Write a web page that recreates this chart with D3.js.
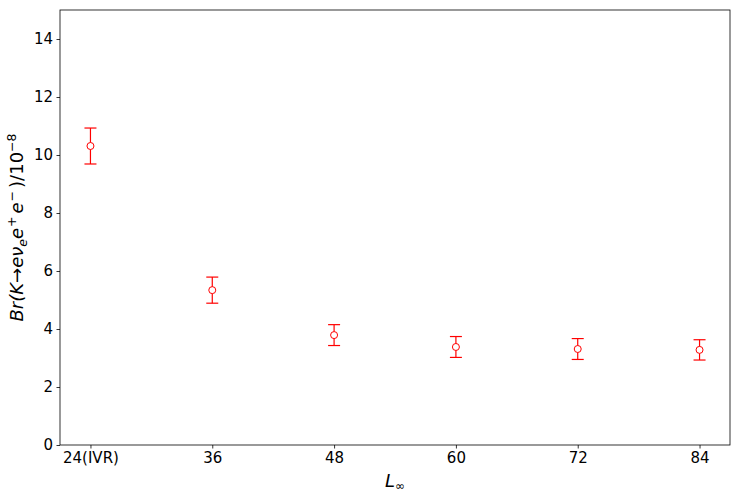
<!DOCTYPE html>
<html>
<head>
<meta charset="utf-8">
<script src="https://cdn.jsdelivr.net/npm/d3@7"></script>
<style>
body { margin: 0; background: #fff; }
text { font-family: "DejaVu Sans", sans-serif; }
</style>
</head>
<body>
<div id="plot"></div>
<script>
var categories = ["24(IVR)", "36", "48", "60", "72", "84"];
var values = [10.31, 5.34, 3.79, 3.38, 3.31, 3.28];
var errors = [0.62, 0.45, 0.36, 0.36, 0.36, 0.35];
var yTicks = [0, 2, 4, 6, 8, 10, 12, 14];

var width = 740, height = 496;
var padLeft = 60, padRight = 730, padTop = 10, padBottom = 445;

var svg = d3.select("#plot").append("svg")
    .attr("width", width)
    .attr("height", height);

var xScale = d3.scaleLinear()
    .domain([-0.25, categories.length - 0.75])
    .range([padLeft, padRight]);

var yScale = d3.scaleLinear()
    .domain([0, 15])
    .range([padBottom, padTop]);

var xAxis = d3.axisBottom(xScale)
    .tickValues(d3.range(categories.length))
    .tickFormat(function(d){ return categories[d]; })
    .tickSize(3.5).tickPadding(3.5);

var yAxis = d3.axisLeft(yScale)
    .tickValues(yTicks)
    .tickSize(3.5).tickPadding(3.5);

var gx = svg.append("g")
    .attr("transform", "translate(0," + padBottom + ")")
    .call(xAxis);
var gy = svg.append("g")
    .attr("transform", "translate(" + padLeft + ",0)")
    .call(yAxis);

[gx, gy].forEach(function(g){
    g.select(".domain").remove();
    g.selectAll("line").attr("stroke", "#000").attr("stroke-width", 0.8);
    g.selectAll("text").attr("font-size", 15).attr("fill", "#000")
        .attr("font-family", "DejaVu Sans");
});

svg.append("rect")
    .attr("x", padLeft).attr("y", padTop)
    .attr("width", padRight - padLeft).attr("height", padBottom - padTop)
    .attr("fill", "none").attr("stroke", "#000").attr("stroke-width", 0.8);

var pts = categories.map(function(c, i){
    return {i: i, v: values[i], e: errors[i]};
});

var marks = svg.append("g").selectAll("g").data(pts).enter().append("g");

marks.append("line")
    .attr("x1", function(d){ return xScale(d.i); })
    .attr("x2", function(d){ return xScale(d.i); })
    .attr("y1", function(d){ return yScale(d.v + d.e); })
    .attr("y2", function(d){ return yScale(d.v - d.e); })
    .attr("stroke", "red").attr("stroke-width", 1.2);

marks.selectAll(".cap")
    .data(function(d){ return [d.v + d.e, d.v - d.e].map(function(y){ return {i: d.i, y: y}; }); })
    .enter().append("line")
    .attr("class", "cap")
    .attr("x1", function(d){ return xScale(d.i) - 6; })
    .attr("x2", function(d){ return xScale(d.i) + 6; })
    .attr("y1", function(d){ return yScale(d.y); })
    .attr("y2", function(d){ return yScale(d.y); })
    .attr("stroke", "red").attr("stroke-width", 1.2);

marks.append("circle")
    .attr("cx", function(d){ return xScale(d.i); })
    .attr("cy", function(d){ return yScale(d.v); })
    .attr("r", 3.5)
    .attr("fill", "white").attr("stroke", "red").attr("stroke-width", 1);

// axis labels
var xl = svg.append("text")
    .attr("x", (padLeft + padRight) / 2)
    .attr("y", 487)
    .attr("text-anchor", "middle")
    .attr("font-size", 18);
xl.append("tspan").attr("font-style", "italic").text("L");
xl.append("tspan").attr("font-size", 12).attr("dy", 3).text("∞");

var yl = svg.append("text")
    .attr("transform", "translate(23," + (padTop + padBottom) / 2 + ") rotate(-90)")
    .attr("text-anchor", "middle")
    .attr("font-size", 18)
    .attr("font-style", "italic");
yl.append("tspan").text("Br(K→e");
yl.append("tspan").text("ν");
yl.append("tspan").attr("font-size", 12.5).attr("dy", 4).text("e");
yl.append("tspan").attr("dy", -4).text("e");
yl.append("tspan").attr("font-size", 12.5).attr("dy", -7).attr("dx", 1).text("+");
yl.append("tspan").attr("dy", 7).attr("dx", 3).text("e");
yl.append("tspan").attr("font-size", 12.5).attr("dy", -7).attr("dx", 1).text("−");
yl.append("tspan").attr("dy", 7).attr("dx", 3).attr("font-style", "normal").text(")/10");
yl.append("tspan").attr("font-size", 12.5).attr("dy", -7).attr("font-style", "normal").text("−8");
</script>
</body>
</html>
